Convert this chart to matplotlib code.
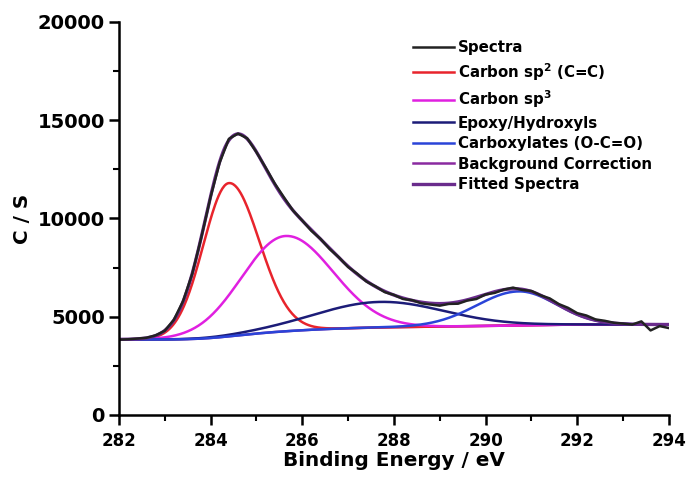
import numpy as np
import matplotlib
matplotlib.use("Agg")
import matplotlib.pyplot as plt
from matplotlib.ticker import MultipleLocator

plt.rcParams['font.family'] = ['DejaVu Sans']
plt.rcParams['font.weight'] = 'bold'
plt.rcParams['mathtext.fontset'] = 'custom'
plt.rcParams['mathtext.rm'] = 'DejaVu Sans:bold'
plt.rcParams['mathtext.bf'] = 'DejaVu Sans:bold'
plt.rcParams['mathtext.it'] = 'DejaVu Sans:bold'

# Measured spectrum (binding energy in eV, counts per second)
energy = np.round(np.arange(282.0, 294.001, 0.2), 1)
counts = [3830, 3850, 3885, 3925, 4050, 4280, 4840, 5790, 7170, 9040,
          11080, 12850, 14050, 14320, 14080, 13380, 12600, 11780, 11080, 10400,
          9900, 9370, 8960, 8440, 8020, 7530, 7190, 6790, 6540, 6250,
          6110, 5900, 5840, 5680, 5620, 5560, 5650, 5660, 5820, 5900,
          6130, 6210, 6380, 6480, 6360, 6310, 6090, 5930, 5640, 5450,
          5180, 5060, 4860, 4790, 4690, 4650, 4600, 4760, 4300, 4520,
          4420]

# Fitted peak components, split-Gaussian widths
peak_labels = [r'Carbon sp$^{2}$ (C=C)', r'Carbon sp$^{3}$',
               'Epoxy/Hydroxyls', 'Carboxylates (O-C=O)']
peak_centers = [284.40, 285.63, 287.70, 290.72]
peak_heights = [7800, 4850, 1300, 1730]
peak_sigma_left = [0.56, 0.95, 1.40, 0.92]
peak_sigma_right = [0.66, 1.03, 1.40, 0.82]
peak_colors = ['#e8242c', '#e020e0', '#1c1c78', '#2a44d8']

bg_low, bg_high = 3840, 4600

x_fit = np.linspace(282.0, 294.0, 601)
comps = []
for c, h, sl, sr in zip(peak_centers, peak_heights, peak_sigma_left, peak_sigma_right):
    s = np.where(x_fit < c, sl, sr)
    comps.append(h * np.exp(-(x_fit - c) ** 2 / (2 * s ** 2)))
total = np.sum(comps, axis=0)
frac = np.cumsum(total) / np.sum(total)
background = bg_low + (bg_high - bg_low) * frac
fitted = background + total

fig = plt.figure(figsize=(6.91, 4.78), dpi=100)
ax = fig.add_axes([0.172, 0.132, 0.796, 0.822])

h_bg, = ax.plot(x_fit, background, color='#8a2aa0', lw=1.8,
                label='Background Correction')
h_comp = []
for comp, lab, col in zip(comps, peak_labels, peak_colors):
    h, = ax.plot(x_fit, background + comp, color=col, lw=1.8, label=lab)
    h_comp.append(h)
h_fit, = ax.plot(x_fit, fitted, color='#6a2c8c', lw=2.4, label='Fitted Spectra')
h_spec, = ax.plot(energy, counts, color='#222222', lw=1.8, label='Spectra')

ax.set_xlim(282, 294)
ax.set_ylim(0, 20000)
ax.xaxis.set_major_locator(MultipleLocator(2))
ax.xaxis.set_minor_locator(MultipleLocator(1))
ax.yaxis.set_major_locator(MultipleLocator(5000))
ax.yaxis.set_minor_locator(MultipleLocator(2500))
for side in ['top', 'right']:
    ax.spines[side].set_visible(False)
for side in ['left', 'bottom']:
    ax.spines[side].set_linewidth(1.8)
ax.tick_params(which='major', direction='out', length=7, width=1.8)
ax.tick_params(which='minor', direction='out', length=4, width=1.5)
ax.tick_params(axis='x', labelsize=12, pad=5)
ax.tick_params(axis='y', labelsize=14, pad=3)
for lab in ax.get_xticklabels() + ax.get_yticklabels():
    lab.set_fontweight('bold')

ax.set_xlabel('Binding Energy / eV', fontsize=14.4, fontweight='bold', labelpad=1)
ax.set_ylabel('C / S', fontsize=14.4, fontweight='bold', labelpad=4)

handles = [h_spec] + h_comp + [h_bg, h_fit]
leg = ax.legend(handles=handles, loc='upper left', bbox_to_anchor=(0.535, 0.953),
                frameon=False, fontsize=10.8, handlelength=2.7,
                handletextpad=0.3, labelspacing=0.37, borderaxespad=0,
                borderpad=0)
for t in leg.get_texts():
    t.set_fontweight('bold')

fig.savefig('out.png', dpi=100)
